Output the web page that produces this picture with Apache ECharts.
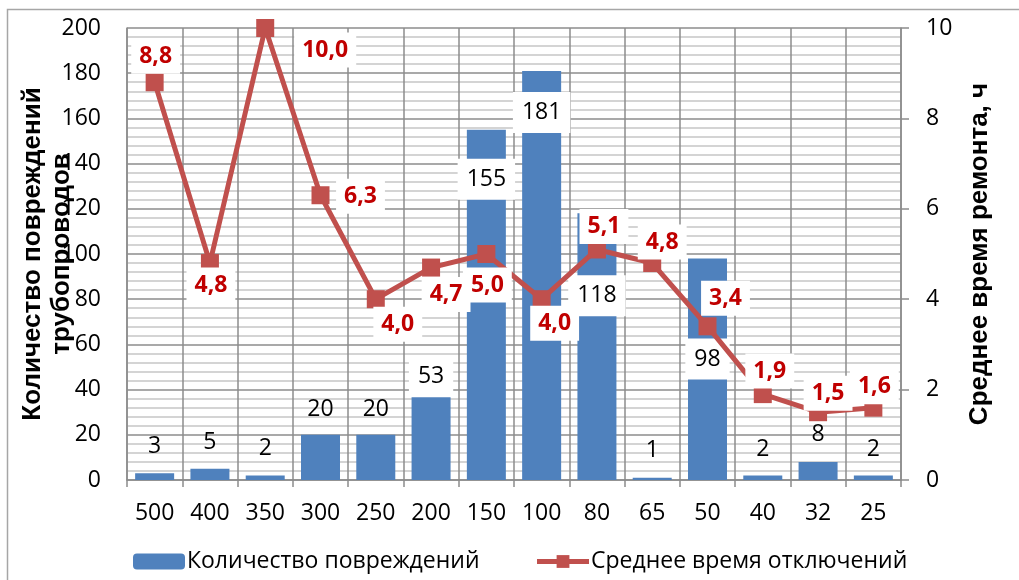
<!DOCTYPE html>
<html>
<head>
<meta charset="utf-8">
<script src="https://cdn.jsdelivr.net/npm/echarts@6/dist/echarts.min.js"></script>
<style>
  html, body { margin: 0; padding: 0; background: #fff; }
  #chart { width: 1019px; height: 580px; }
</style>
</head>
<body>
<div id="chart"></div>
<script>
// диаметры трубопроводов, мм
const categories = ['500', '400', '350', '300', '250', '200', '150', '100', '80', '65', '50', '40', '32', '25']
// количество повреждений
const damageCounts = [3, 5, 2, 20, 20, 53, 155, 181, 118, 1, 98, 2, 8, 2]
// среднее время отключений, ч
const repairHours = [8.8, 4.8, 10.0, 6.3, 4.0, 4.7, 5.0, 4.0, 5.1, 4.8, 3.4, 1.9, 1.5, 1.6]
const leftTicks = [0, 20, 40, 60, 80, 100, 120, 140, 160, 180, 200]
const rightTicks = [0, 2, 4, 6, 8, 10]

// ручное расположение подписей (как в исходной диаграмме)
const barLabelShift = [-15, -15, -16, -14, -14, 37, 70, 62, 103, -16, 121, -15, -16, -15]
const barLabelBoxed = [false, false, false, false, false, true, true, true, true, false, true, false, false, false]
const lineLabelShift = [[1, -26], [1, 22], [60, 22], [40, 1], [22, 25], [15, 27], [1, 31],
  [13, 24], [7, -23], [10, -21], [18, -28], [7, -23], [10, -19], [1, -21]]

const numFont = 'Open Sans'
const gridMajor = '#8c8c8c'
const gridMinor = '#c6c6c6'

const chart = echarts.init(document.getElementById('chart'))

const option = {
  animation: false,
  textStyle: { fontFamily: numFont },
  graphic: [
    {
      type: 'rect',
      shape: { x: 7.5, y: 9.5, width: 1030, height: 600 },
      style: { fill: 'none', stroke: '#a6a6a6', lineWidth: 1.5 },
      silent: true
    }
  ],
  grid: { left: 127, right: 118, top: 28, bottom: 100, containLabel: false, outerBoundsMode: 'none' },
  legend: {
    left: 128,
    top: 545,
    itemWidth: 52,
    itemHeight: 16,
    itemGap: 55,
    lineStyle: { width: 5 },
    textStyle: { fontFamily: numFont, fontSize: 23, color: '#000', padding: [0, 0, 0, -3] },
    data: ['Количество повреждений', 'Среднее время отключений']
  },
  xAxis: {
    type: 'category',
    data: categories,
    axisLine: { lineStyle: { color: gridMajor, width: 1.5 } },
    axisTick: { show: true, length: 7, lineStyle: { color: gridMajor, width: 1.5 } },
    axisLabel: { color: '#000', fontSize: 23, margin: 22, interval: 0 },
    splitLine: { show: true, interval: 0, lineStyle: { color: gridMajor, width: 1.5 } }
  },
  yAxis: [
    {
      type: 'value',
      min: 0,
      max: 200,
      interval: 20,
      name: 'Количество повреждений\nтрубопроводов',
      nameLocation: 'middle',
      nameRotate: 90,
      nameGap: 51,
      nameMoveOverlap: false,
      nameTextStyle: { fontFamily: 'Liberation Sans', fontWeight: 'bold', fontSize: 26, color: '#000', lineHeight: 29 },
      axisLine: { show: true, lineStyle: { color: gridMajor, width: 1.5 } },
      axisTick: { show: false },
      axisLabel: {
        color: '#000', fontSize: 23, margin: 26,
        formatter: v => (leftTicks.includes(v) ? String(v) : '')
      },
      splitLine: { show: true, lineStyle: { color: gridMajor, width: 1.5 } },
      minorTick: { show: true, splitNumber: 5, length: 0, lineStyle: { opacity: 0 } },
      minorSplitLine: { show: true, lineStyle: { color: gridMinor, width: 1.5 } }
    },
    {
      type: 'value',
      min: 0,
      max: 10,
      interval: 2,
      name: 'Среднее время ремонта, ч',
      nameLocation: 'middle',
      nameRotate: 90,
      nameGap: 66,
      nameMoveOverlap: false,
      nameTextStyle: { fontFamily: 'Liberation Sans', fontWeight: 'bold', fontSize: 26, color: '#000' },
      axisLine: { show: true, lineStyle: { color: gridMajor, width: 1.5 } },
      axisTick: { show: true, length: 8, lineStyle: { color: gridMajor, width: 1.5 } },
      axisLabel: {
        color: '#000', fontSize: 23, margin: 25,
        formatter: v => (rightTicks.includes(v) ? String(v) : '')
      },
      splitLine: { show: false }
    }
  ],
  series: [
    {
      name: 'Количество повреждений',
      type: 'bar',
      yAxisIndex: 0,
      barWidth: 39,
      itemStyle: { color: '#4f81bd' },
      data: damageCounts.map((v, i) => ({
        value: v,
        label: {
          show: true,
          position: 'top',
          distance: 0,
          offset: [0, barLabelShift[i]],
          color: '#000',
          fontSize: 23,
          backgroundColor: barLabelBoxed[i] ? '#fff' : 'transparent',
          padding: barLabelBoxed[i] ? [9, 9] : 0
        }
      }))
    },
    {
      name: 'Среднее время отключений',
      type: 'line',
      yAxisIndex: 1,
      symbol: 'rect',
      symbolSize: 18,
      itemStyle: { color: '#c0504d' },
      lineStyle: { color: '#c0504d', width: 5 },
      data: repairHours.map((v, i) => ({
        value: v,
        label: {
          show: true,
          position: 'inside',
          offset: lineLabelShift[i],
          color: '#c00000',
          fontWeight: 'bold',
          fontSize: 23,
          backgroundColor: '#fff',
          padding: [6, 8],
          formatter: p => p.value.toFixed(1).replace('.', ',')
        }
      }))
    }
  ]
}

chart.setOption(option)
</script>
</body>
</html>
